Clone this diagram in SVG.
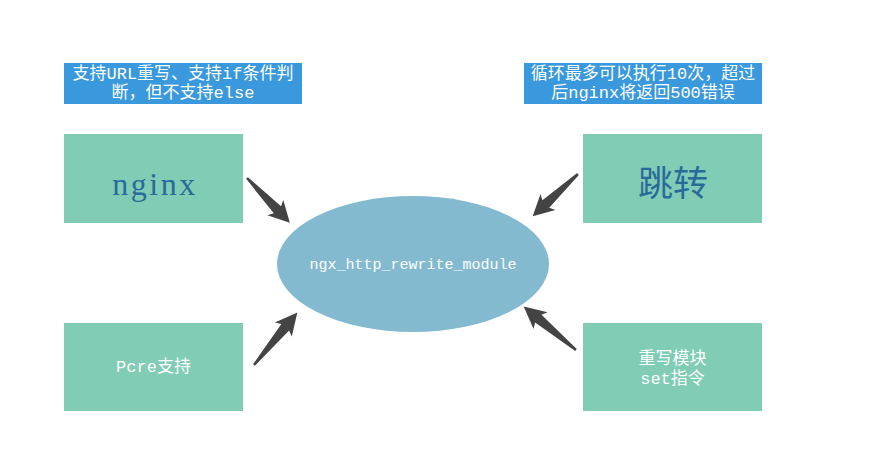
<svg xmlns="http://www.w3.org/2000/svg" width="891" height="468" viewBox="0 0 891 468">
<style>
.lbl{fill:#3a98dc}
.box{fill:#80ccb4}
.wt{fill:#ffffff;font-family:"Liberation Mono","Noto Sans CJK SC",monospace;text-anchor:middle}
.arr{fill:#444444}
</style>
<defs>
<polygon id="a62" points="0,-1.2 44,-5 41,-11 62,0 41,11 44,5 0,1.2"/>
<polygon id="a68" points="0,-1.2 49,-5 46,-11 68,0 46,11 49,5 0,1.2"/>
</defs>
<rect width="891" height="468" fill="#ffffff"/>
<g id="label-left">
<rect class="lbl" x="64" y="63" width="238" height="41"/>
<text class="wt" x="183" y="79" font-size="17">支持URL重写、支持if条件判</text>
<text class="wt" x="183" y="98" font-size="17">断，但不支持else</text>
</g>
<g id="label-right">
<rect class="lbl" x="524" y="63" width="238" height="41"/>
<text class="wt" x="643" y="79" font-size="17">循环最多可以执行10次，超过</text>
<text class="wt" x="643" y="98" font-size="17">后nginx将返回500错误</text>
</g>
<g id="nginx">
<rect class="box" x="64" y="134" width="179" height="89"/>
<text x="155" y="195" font-size="32" letter-spacing="2.5" fill="#2a6a9a" font-family="Liberation Serif,serif" text-anchor="middle">nginx</text>
</g>
<g id="tiaozhuan">
<rect class="box" x="583" y="134" width="179" height="89"/>
<text x="673" y="196" font-size="35" fill="#2a6a9a" font-family="Noto Sans CJK SC,sans-serif" text-anchor="middle">跳转</text>
</g>
<g id="pcre">
<rect class="box" x="64" y="323" width="179" height="88"/>
<text class="wt" x="153.5" y="372" font-size="17">Pcre支持</text>
</g>
<g id="rewrite-set">
<rect class="box" x="583" y="323" width="179" height="88"/>
<text class="wt" x="672.5" y="364" font-size="17">重写模块</text>
<text class="wt" x="672.5" y="384" font-size="17">set指令</text>
</g>
<g id="module">
<ellipse cx="413" cy="264" rx="136" ry="68" fill="#83bacf"/>
<text class="wt" x="413" y="269" font-size="15">ngx_http_rewrite_module</text>
</g>
<g id="connectors" class="arr">
<use href="#a62" transform="translate(247,178) rotate(46.3)"/>
<use href="#a62" transform="translate(578,174) rotate(137)"/>
<use href="#a68" transform="translate(254,365) rotate(-50.4)"/>
<use href="#a68" transform="translate(576,350) rotate(219.7)"/>
</g>
</svg>
